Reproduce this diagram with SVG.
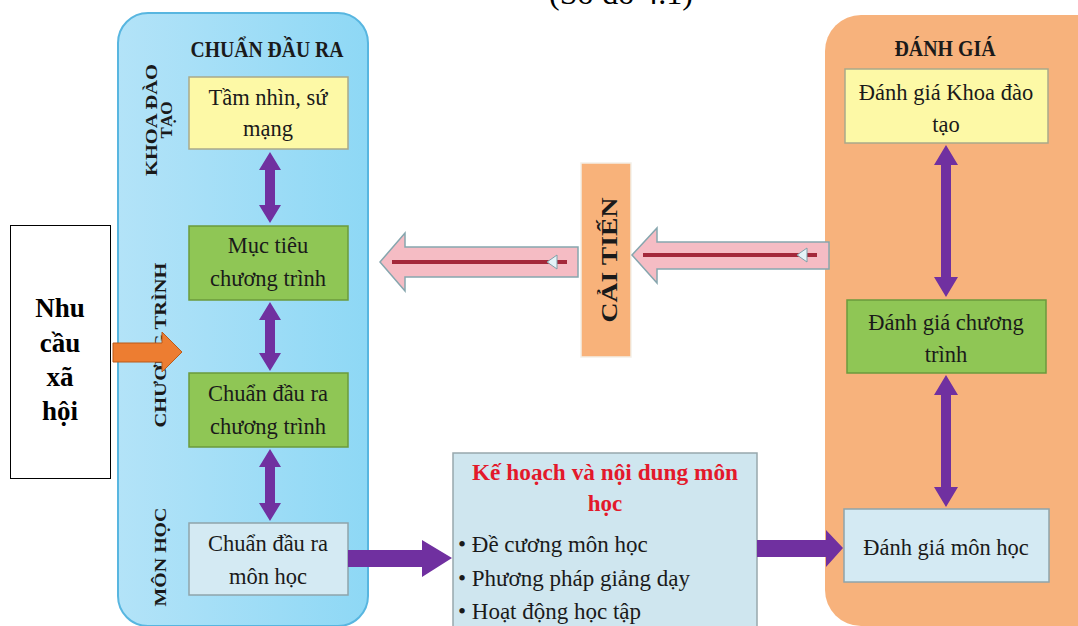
<svg xmlns="http://www.w3.org/2000/svg" width="1078" height="626" viewBox="0 0 1078 626">
<defs>
<linearGradient id="blueg" x1="0" y1="0" x2="1" y2="0">
<stop offset="0" stop-color="#b3e3f8"/>
<stop offset="1" stop-color="#8ed8f5"/>
</linearGradient>
</defs>
<style>
.t{font-family:"Liberation Serif",serif;font-size:22.5px;fill:#1a1a1a;text-anchor:middle}
.hd{font-family:"Liberation Serif",serif;font-weight:bold;font-size:23px;fill:#1a1a1a;text-anchor:middle}
.rl{font-family:"Liberation Serif",serif;font-weight:bold;font-size:17px;fill:#1a1a1a;text-anchor:middle}
.nh{font-family:"Liberation Serif",serif;font-weight:bold;font-size:27px;fill:#000;text-anchor:middle}
.yel{fill:#fdf9a6;stroke:#a9a98a;stroke-width:1.5}
.grn{fill:#8fc655;stroke:#6b9a3c;stroke-width:1.5}
.lb{fill:#d4eaf3;stroke:#8fa4ab;stroke-width:1.5}
.pur{fill:#7030a0}
.pink{fill:#f5bcc4;stroke:#86a6ae;stroke-width:1.5}
.rline{stroke:#a3283a;stroke-width:4}
.tri{fill:#e4f3f8;stroke:#7fa0a8;stroke-width:1}
.bul{font-family:"Liberation Serif",serif;font-size:23px;fill:#1a1a1a}
</style>

<text x="621" y="4" font-family="Liberation Serif,serif" font-size="32" text-anchor="middle" fill="#000">(Sơ đồ 4.1)</text>

<g id="panel-chuan-dau-ra">
<rect x="118" y="13" width="250" height="613" rx="30" fill="url(#blueg)" stroke="#58b6e0" stroke-width="2"/>
<text class="hd" x="267" y="57" textLength="153" lengthAdjust="spacingAndGlyphs">CHUẨN ĐẦU RA</text>
<text class="rl" transform="translate(157,120) rotate(-90)" textLength="112" lengthAdjust="spacingAndGlyphs">KHOA ĐÀO</text>
<text class="rl" transform="translate(172,120) rotate(-90)">TẠO</text>
<text class="rl" transform="translate(166,345) rotate(-90)" textLength="165" lengthAdjust="spacingAndGlyphs">CHƯƠNG TRÌNH</text>
<text class="rl" transform="translate(166,557) rotate(-90)" textLength="99" lengthAdjust="spacingAndGlyphs">MÔN HỌC</text>
</g>

<g id="panel-danh-gia">
<rect x="825" y="15" width="300" height="611" rx="36" fill="#f7b27c"/>
<text class="hd" x="945" y="56" textLength="101" lengthAdjust="spacingAndGlyphs">ĐÁNH GIÁ</text>
</g>

<g id="node-tam-nhin">
<rect class="yel" x="189" y="77" width="159" height="72"/>
<text class="t" x="268" y="105">Tầm nhìn, sứ</text>
<text class="t" x="268" y="136">mạng</text>
</g>

<g id="node-muc-tieu">
<rect class="grn" x="189" y="226" width="159" height="74"/>
<text class="t" x="268" y="253">Mục tiêu</text>
<text class="t" x="268" y="286">chương trình</text>
</g>

<g id="node-cdr-chuong-trinh">
<rect class="grn" x="189" y="373" width="159" height="74"/>
<text class="t" x="268" y="401">Chuẩn đầu ra</text>
<text class="t" x="268" y="434">chương trình</text>
</g>

<g id="node-cdr-mon-hoc">
<rect class="lb" x="189" y="523" width="159" height="72"/>
<text class="t" x="268" y="551">Chuẩn đầu ra</text>
<text class="t" x="268" y="584">môn học</text>
</g>

<g id="node-dg-khoa">
<rect class="yel" x="845" y="69" width="203" height="74"/>
<text class="t" x="946" y="100">Đánh giá Khoa đào</text>
<text class="t" x="946" y="132">tạo</text>
</g>

<g id="node-dg-chuong-trinh">
<rect class="grn" x="847" y="300" width="199" height="73"/>
<text class="t" x="946" y="330">Đánh giá chương</text>
<text class="t" x="946" y="362">trình</text>
</g>

<g id="node-dg-mon-hoc">
<rect class="lb" x="844" y="509" width="205" height="73"/>
<text class="t" x="946" y="555">Đánh giá môn học</text>
</g>

<g id="node-cai-tien">
<rect x="581" y="163" width="50" height="194" fill="#f8b27a" stroke="#f3efe8" stroke-width="1.5"/>
<text class="hd" transform="translate(617,260) rotate(-90)" font-size="22" textLength="125" lengthAdjust="spacingAndGlyphs">CẢI TIẾN</text>
</g>

<g id="node-nhu-cau">
<rect x="10.5" y="225.5" width="100" height="253" fill="#fff" stroke="#000" stroke-width="1"/>
<text class="nh" x="60" y="317">Nhu</text>
<text class="nh" x="60" y="352">cầu</text>
<text class="nh" x="60" y="386">xã</text>
<text class="nh" x="60" y="420">hội</text>
</g>

<g id="node-ke-hoach">
<rect x="453" y="453" width="304" height="200" fill="#cfe6ef" stroke="#98a8ad" stroke-width="1.5"/>
<text x="605" y="480" font-family="Liberation Serif,serif" font-weight="bold" font-size="23" fill="#e3192b" text-anchor="middle" textLength="266" lengthAdjust="spacingAndGlyphs">Kế hoạch và nội dung môn</text>
<text x="605" y="511" font-family="Liberation Serif,serif" font-weight="bold" font-size="23" fill="#e3192b" text-anchor="middle">học</text>
<text class="bul" x="458" y="552">• Đề cương môn học</text>
<text class="bul" x="458" y="586">• Phương pháp giảng dạy</text>
<text class="bul" x="458" y="619">• Hoạt động học tập</text>
</g>

<g id="connectors">
<!-- vertical double arrows -->
<polygon class="pur" points="270,152 281,170 275,170 275,205 281,205 270,223 259,205 265,205 265,170 259,170"/>
<polygon class="pur" points="270,302 281,320 275,320 275,353 281,353 270,371 259,353 265,353 265,320 259,320"/>
<polygon class="pur" points="270,449 281,467 275,467 275,503 281,503 270,521 259,503 265,503 265,467 259,467"/>
<polygon class="pur" points="946,145 958,165 951,165 951,277 958,277 946,297 934,277 941,277 941,165 934,165"/>
<polygon class="pur" points="946,375 958,395 951,395 951,487 958,487 946,507 934,487 941,487 941,395 934,395"/>
<!-- horizontal purple arrows -->
<polygon class="pur" points="348,550 422,550 422,540 452,558 422,577 422,567 348,567"/>
<polygon class="pur" points="757,540 826,540 826,530 843,548 826,567 826,557 757,557"/>
<!-- pink improvement arrows -->
<polygon class="pink" points="380,262 405,233 405,247 578,247 578,277 405,277 405,291"/>
<line class="rline" x1="392" y1="262" x2="567" y2="262"/>
<polygon class="tri" points="547,262 557,255 557,269"/>
<polygon class="pink" points="632,255 657,228 657,242 829,242 829,269 657,269 657,283"/>
<line class="rline" x1="643" y1="255" x2="817" y2="255"/>
<polygon class="tri" points="797,255 807,248 807,262"/>
<!-- orange arrow -->
<polygon points="113,343 162,343 162,332 182,352 162,372 162,362 113,362" fill="#ed7d31" stroke="#b95b1a" stroke-width="1"/>
</g>
</svg>
